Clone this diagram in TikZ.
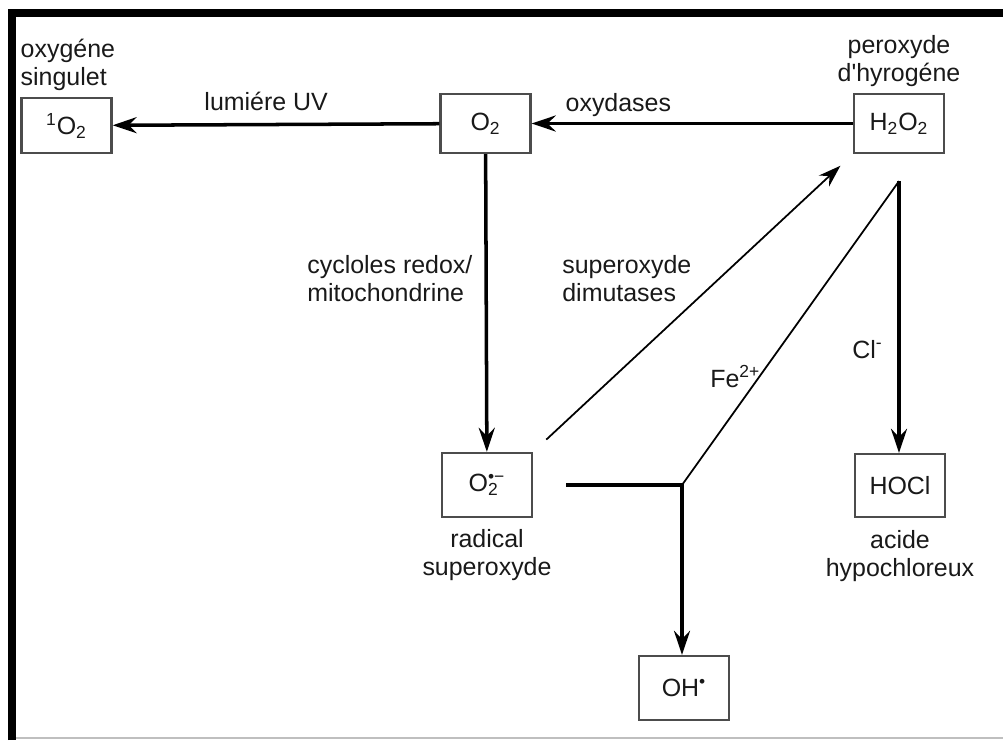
\documentclass[tikz,border=0pt]{standalone}
\usepackage{fontspec}
\setmainfont{Liberation Sans}
\usepackage{xcolor}
\usepackage{tikz}
\usetikzlibrary{positioning}
\usetikzlibrary{calc}
\usetikzlibrary{arrows, shapes, arrows.meta}
\tikzstyle{species} = [rectangle, minimum width=1.8cm, minimum height=1.18cm, draw=black!70, line width=1.3pt, text=black!90, font=\fontsize{14.2}{15.9}\selectfont]
\tikzstyle{lbl} = [text=black!90, inner sep=0pt, font=\fontsize{14.2}{15.9}\selectfont]
\tikzstyle{arrow} = [line width=2pt, -{Stealth[length=0.48cm, width=0.32cm, inset=0.16cm]}]
\tikzstyle{thinarrow} = [line width=1pt, -{Stealth[length=0.45cm, width=0.3cm, inset=0.15cm]}]

\begin{document}
\begin{tikzpicture}
      \useasboundingbox (0,0) rectangle (20.06,-14.8);
      %%%%%%%%%%%%%%%%%%%%%%%%%%%%%%%%%%%%%%%
      \draw[line width=0.15cm] (0.24,-14.8) |- (20.06,-0.26);
      \draw[gray!50, line width=0.6pt] (0.32,-14.76) -- (20.06,-14.76);
      %%%%%%%%%%%%%%%%%%%%%%%%%%%%%%%%%%%%%%%
      \draw (1.33,-2.51) node (so2) [species, minimum height=1.1cm] {\textsuperscript{1}O\textsubscript{2}};
      \draw (9.71,-2.47) node (o2) [species] {O\textsubscript{2}};
      \draw (17.98,-2.47) node (h2o2) [species] {H\textsubscript{2}O\textsubscript{2}};
      \draw (9.74,-9.70) node (sup) [species, minimum height=1.28cm] {O\rlap{\textsubscript{2}}\textsuperscript{•−}};
      \draw (18.0,-9.71) node (hocl) [species, minimum height=1.26cm] {HOCl};
      \draw (13.68,-13.76) node (oh) [species, minimum height=1.28cm] {OH\textsuperscript{•}};
      %\draw (so2.north west) node [draw] {};
      \node (singlab) [lbl, align=left, anchor=south west] at ([yshift=0.12cm]so2.north west) {oxygéne\\singulet};
      \node (perlab) [lbl, align=center, anchor=south] at ([yshift=0.12cm]h2o2.north) {peroxyde\\d\textquotesingle hyrogéne};
      \node (radlab) [lbl, align=center, anchor=north] at ([yshift=-0.22cm]sup.south) {radical\\superoxyde};
      \node (acilab) [lbl, align=center, anchor=north] at ([yshift=-0.24cm]hocl.south) {acide\\hypochloreux};
      \node (cyclab) [lbl, align=left, anchor=north west] at (6.14,-5.10) {cycloles redox/\\mitochondrine};
      \node (dimlab) [lbl, align=left, anchor=north west] at (11.24,-5.10) {superoxyde\\dimutases};
      \node (felab) [lbl, anchor=base west] at (14.2,-7.74) {Fe\textsuperscript{2+}};
      \node (cllab) [lbl, anchor=base west] at (17.04,-7.16) {Cl\textsuperscript{-}};
      %%%%%%%%%%%%%%%%%%%%%%%%%%%%%%%%%%%%%%%
      \coordinate (j) at (13.64,-9.70);
      \coordinate (t) at ([yshift=-0.54cm]h2o2.south);
      \draw[arrow] (o2) -- (so2) node (uvlab) [lbl, above=0.24cm, pos=0.53] {lumiére UV};
      \draw[arrow] (h2o2) -- (o2) node (oxlab) [lbl, above=0.11cm, pos=0.73] {oxydases};
      \draw[arrow] (o2) -- (sup);
      \draw[thinarrow, shorten <=0.36cm, shorten >=0.34cm] (sup.north east) -- (h2o2.south west);
      \draw[line width=1pt] (t) -- (j);
      \draw[arrow] ([xshift=0.66cm]sup.east) -- (j) -- (j |- oh.north);
      \draw[arrow] (t) -- (t |- hocl.north);
\end{tikzpicture}
\end{document}
